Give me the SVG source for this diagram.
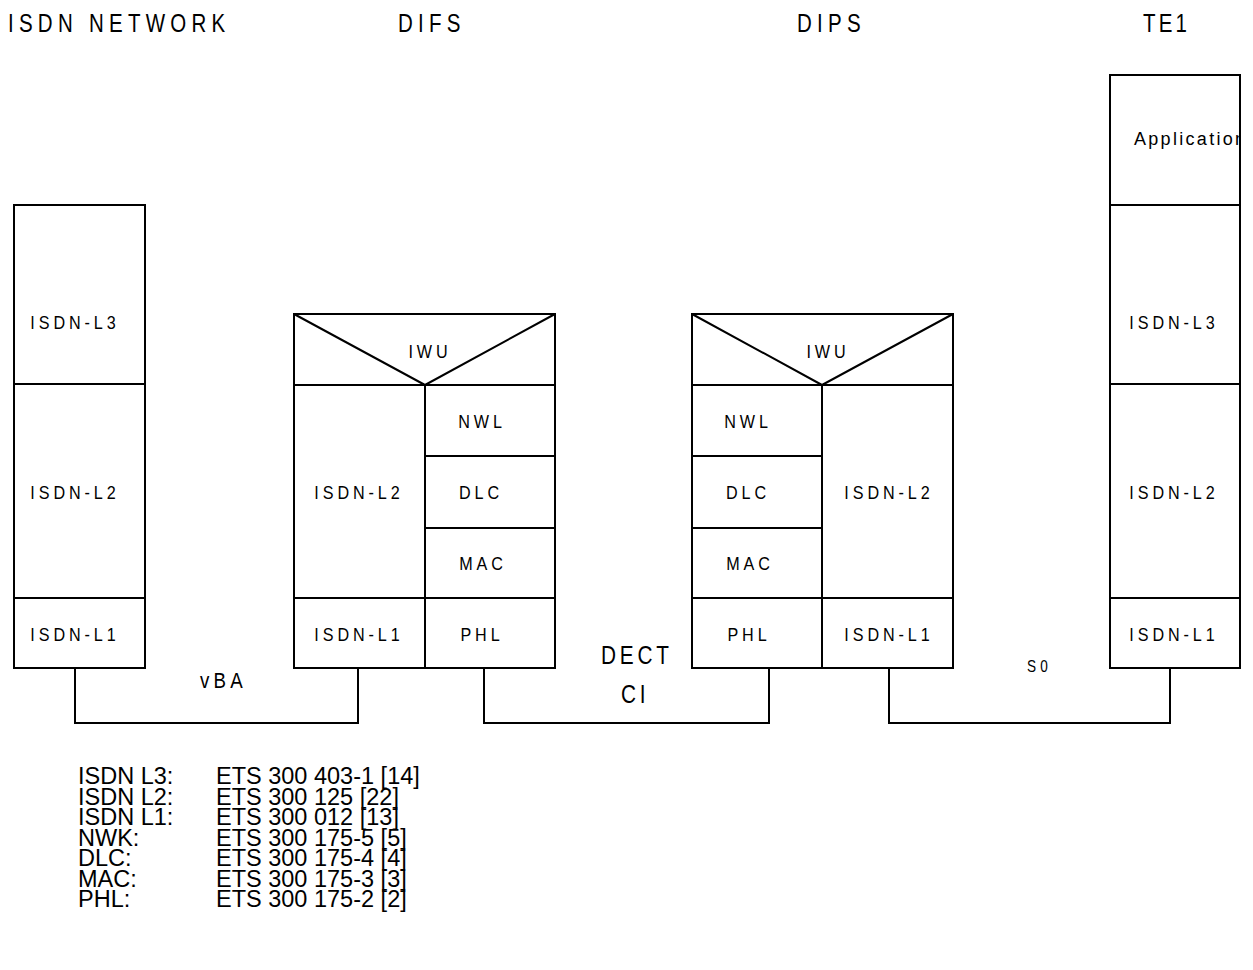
<svg xmlns="http://www.w3.org/2000/svg" width="1253" height="970" viewBox="0 0 1253 970">
<style>
.box{fill:none;stroke:#000;stroke-width:2}
.ln{stroke:#000;stroke-width:2;fill:none}
.t{font-family:"Liberation Sans",Arial,sans-serif;fill:#000}
.title{font-size:25px;letter-spacing:6.4px}
.lbl{font-size:19px;letter-spacing:4.6px;text-anchor:middle}
.leg{font-family:"Liberation Sans",Arial,sans-serif;font-size:23.5px;fill:#000}
</style>
<defs>
<clipPath id="teclip"><rect x="1110" y="75" width="129" height="130"/></clipPath>
</defs>
<rect width="1253" height="970" fill="#fff"/>
<g id="titles">
<text class="t title" transform="translate(8,32) scale(.82,1)">ISDN NETWORK</text>
<text class="t title" transform="translate(398,32) scale(.82,1)">DIFS</text>
<text class="t title" transform="translate(797,32) scale(.82,1)">DIPS</text>
<text class="t title" transform="translate(1143,32) scale(.82,1)" style="letter-spacing:3.9px">TE1</text>
</g>
<g id="isdn-network">
<rect class="box" x="14" y="205" width="131" height="463"/>
<line class="ln" x1="14" y1="384" x2="145" y2="384"/>
<line class="ln" x1="14" y1="598" x2="145" y2="598"/>
<text class="t lbl" transform="translate(75,329) scale(.85,1)">ISDN-L3</text>
<text class="t lbl" transform="translate(75,499) scale(.85,1)">ISDN-L2</text>
<text class="t lbl" transform="translate(75,641) scale(.85,1)">ISDN-L1</text>
</g>
<g id="difs">
<rect class="box" x="294" y="314" width="261" height="354"/>
<polyline class="ln" points="294,314 425,385 555,314"/>
<line class="ln" x1="294" y1="385" x2="555" y2="385"/>
<line class="ln" x1="425" y1="385" x2="425" y2="668"/>
<line class="ln" x1="425" y1="456" x2="555" y2="456"/>
<line class="ln" x1="425" y1="528" x2="555" y2="528"/>
<line class="ln" x1="294" y1="598" x2="555" y2="598"/>
<text class="t lbl" transform="translate(430,358) scale(.85,1)">IWU</text>
<text class="t lbl" transform="translate(359,499) scale(.85,1)">ISDN-L2</text>
<text class="t lbl" transform="translate(359,641) scale(.85,1)">ISDN-L1</text>
<text class="t lbl" transform="translate(482,428) scale(.85,1)">NWL</text>
<text class="t lbl" transform="translate(481,499) scale(.85,1)">DLC</text>
<text class="t lbl" transform="translate(483,570) scale(.85,1)">MAC</text>
<text class="t lbl" transform="translate(482,641) scale(.85,1)">PHL</text>
</g>
<g id="dips">
<rect class="box" x="692" y="314" width="261" height="354"/>
<polyline class="ln" points="692,314 822,385 953,314"/>
<line class="ln" x1="692" y1="385" x2="953" y2="385"/>
<line class="ln" x1="822" y1="385" x2="822" y2="668"/>
<line class="ln" x1="692" y1="456" x2="822" y2="456"/>
<line class="ln" x1="692" y1="528" x2="822" y2="528"/>
<line class="ln" x1="692" y1="598" x2="953" y2="598"/>
<text class="t lbl" transform="translate(828,358) scale(.85,1)">IWU</text>
<text class="t lbl" transform="translate(748,428) scale(.85,1)">NWL</text>
<text class="t lbl" transform="translate(748,499) scale(.85,1)">DLC</text>
<text class="t lbl" transform="translate(750,570) scale(.85,1)">MAC</text>
<text class="t lbl" transform="translate(749,641) scale(.85,1)">PHL</text>
<text class="t lbl" transform="translate(889,499) scale(.85,1)">ISDN-L2</text>
<text class="t lbl" transform="translate(889,641) scale(.85,1)">ISDN-L1</text>
</g>
<g id="te1">
<rect class="box" x="1110" y="75" width="130" height="593"/>
<line class="ln" x1="1110" y1="205" x2="1240" y2="205"/>
<line class="ln" x1="1110" y1="384" x2="1240" y2="384"/>
<line class="ln" x1="1110" y1="598" x2="1240" y2="598"/>
<g clip-path="url(#teclip)"><text class="t" x="1134" y="145" font-size="18" letter-spacing="2.3">Application</text></g>
<text class="t lbl" transform="translate(1174,329) scale(.85,1)">ISDN-L3</text>
<text class="t lbl" transform="translate(1174,499) scale(.85,1)">ISDN-L2</text>
<text class="t lbl" transform="translate(1174,641) scale(.85,1)">ISDN-L1</text>
</g>
<g id="connectors">
<polyline class="ln" points="75,668 75,723 358,723 358,668"/>
<polyline class="ln" points="484,668 484,723 769,723 769,668"/>
<polyline class="ln" points="889,668 889,723 1170,723 1170,668"/>
</g>
<g id="connector-labels">
<text class="t" transform="translate(200,688) scale(.85,1)" font-size="22" letter-spacing="5">vBA</text>
<text class="t" transform="translate(601,664) scale(.8,1)" font-size="26" letter-spacing="4.7">DECT</text>
<text class="t" transform="translate(621,703) scale(.8,1)" font-size="26" letter-spacing="4.7">CI</text>
<text class="t" transform="translate(1027,672) scale(.85,1)" font-size="16" letter-spacing="5">S0</text>
</g>
<g id="legend">
<text class="leg" x="78" y="784">ISDN L3:</text><text class="leg" x="216" y="784">ETS 300 403-1 [14]</text>
<text class="leg" x="78" y="805">ISDN L2:</text><text class="leg" x="216" y="805">ETS 300 125 [22]</text>
<text class="leg" x="78" y="825">ISDN L1:</text><text class="leg" x="216" y="825">ETS 300 012 [13]</text>
<text class="leg" x="78" y="846">NWK:</text><text class="leg" x="216" y="846">ETS 300 175-5 [5]</text>
<text class="leg" x="78" y="866">DLC:</text><text class="leg" x="216" y="866">ETS 300 175-4 [4]</text>
<text class="leg" x="78" y="887">MAC:</text><text class="leg" x="216" y="887">ETS 300 175-3 [3]</text>
<text class="leg" x="78" y="907">PHL:</text><text class="leg" x="216" y="907">ETS 300 175-2 [2]</text>
</g>
</svg>
